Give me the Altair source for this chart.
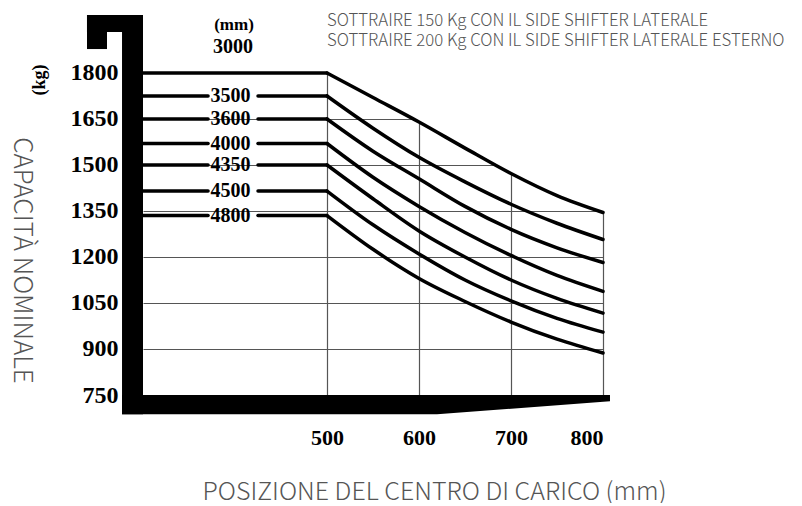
import altair as alt
import pandas as pd

# ---------------- data ----------------
x_pos = [500, 550, 600, 650, 700, 750, 800]
mast_heights = ["3000", "3500", "3600", "4000", "4350", "4500", "4800"]
cap_3000 = [1800, 1720, 1640, 1555, 1472, 1400, 1345]
cap_3500 = [1725, 1620, 1525, 1445, 1372, 1310, 1257]
cap_3600 = [1650, 1545, 1455, 1365, 1290, 1230, 1182]
cap_4000 = [1570, 1460, 1365, 1280, 1205, 1140, 1088]
cap_4350 = [1500, 1390, 1285, 1200, 1125, 1065, 1017]
cap_4500 = [1415, 1305, 1210, 1125, 1057, 1000, 955]
cap_4800 = [1335, 1225, 1130, 1055, 988, 932, 887]
y_ticks = [750, 900, 1050, 1200, 1350, 1500, 1650, 1800]
x_ticks = [500, 600, 700, 800]
notes = [
    "SOTTRAIRE 150 Kg CON IL SIDE SHIFTER LATERALE",
    "SOTTRAIRE 200 Kg CON IL SIDE SHIFTER LATERALE ESTERNO",
]
x_title = "POSIZIONE DEL CENTRO DI CARICO (mm)"
y_title = "CAPACITÀ NOMINALE"

caps_all = [cap_3000, cap_3500, cap_3600, cap_4000, cap_4350, cap_4500, cap_4800]

# ---------------- layout constants ----------------
X_MIN, X_MAX = 300, 800
Y_MIN, Y_MAX = 750, 1989
GAP_L, GAP_R = 370.7, 425.0   # gap in the flat part for the label
LABEL_X = 395.0
SERIF = "Liberation Serif"
SANS = "Noto Sans CJK SC"

xs = alt.Scale(domain=[X_MIN, X_MAX], nice=False, zero=False)
ys = alt.Scale(domain=[Y_MIN, Y_MAX], nice=False, zero=False)

# ---------------- tables ----------------
rows = []
for h, caps in zip(mast_heights, caps_all):
    c0 = caps[0]
    if h == mast_heights[0]:
        rows += [(h + "a", X_MIN, c0), (h + "a", x_pos[0], c0)]
    else:
        rows += [(h + "a", X_MIN, c0), (h + "a", GAP_L, c0),
                 (h + "b", GAP_R, c0), (h + "b", x_pos[0], c0)]
    for xv, yv in zip(x_pos, caps):
        rows.append((h + "c", xv, yv))
lines_df = pd.DataFrame(rows, columns=["key", "x", "y"])

mask_x = [X_MIN] + x_pos + [815]
mask_y = [cap_3000[0]] + cap_3000 + [cap_3000[-1]]
mask_df = pd.DataFrame({"x": mask_x, "y": mask_y, "y2": [Y_MAX] * len(mask_x)})

label_df = pd.DataFrame({
    "x": [LABEL_X] * (len(mast_heights) - 1),
    "y": [c[0] for c in caps_all[1:]],
    "t": mast_heights[1:],
})

# decorative thick frame (in data units)
frame_df = pd.DataFrame({
    "x": [277.2, 239.1, 239.1],
    "x2": [X_MIN, X_MIN, 260.9],
    "y": [687, 1933.5, 1878],
    "y2": [Y_MAX, Y_MAX, Y_MAX],
})
bottom_df = pd.DataFrame({
    "x": [277.2, 619.6, 807.6],
    "y": [Y_MIN, Y_MIN, Y_MIN],
    "y2": [687, 687, 729.5],
})

# ---------------- layers ----------------
x_axis = alt.Axis(
    values=x_ticks, title=x_title, grid=True, gridColor="#555555", gridWidth=1.2,
    domain=False, ticks=False, tickSize=0, format="d",
    labelFont=SERIF, labelFontWeight="bold", labelFontSize=22, labelColor="black",
    labelPadding=32,
    titleFont=SANS, titleFontSize=25, titleFontWeight=300, titleColor="#555555",
    titleX=291, titleY=96, titleAlign="center", titleBaseline="middle", titleAngle=0,
)
y_axis = alt.Axis(
    values=y_ticks, title=y_title, grid=True, gridColor="#555555", gridWidth=1.2,
    domain=False, ticks=False, tickSize=0, format="d",
    labelFont=SERIF, labelFontWeight="bold", labelFontSize=24, labelColor="black",
    labelPadding=25,
    titleFont=SANS, titleFontSize=26, titleFontWeight=300, titleColor="#555555",
    titleX=-122, titleY=245, titleAlign="center", titleBaseline="middle", titleAngle=90,
)

X = alt.X("x:Q", scale=xs, axis=x_axis)
Y = alt.Y("y:Q", scale=ys, axis=y_axis)

mask = alt.Chart(mask_df).mark_area(color="white", opacity=1).encode(
    x=X, y=Y, y2="y2:Q",
)

lines = alt.Chart(lines_df).mark_line(
    color="black", strokeWidth=3.5, interpolate="monotone", strokeCap="round"
).encode(x=X, y=Y, detail="key:N")

labels = alt.Chart(label_df).mark_text(
    font=SERIF, fontWeight="bold", fontSize=20, color="black",
    align="center", baseline="middle",
).encode(x=X, y=Y, text="t:N")

frame = alt.Chart(frame_df).mark_rect(color="black").encode(
    x=X, x2="x2:Q", y=Y, y2="y2:Q",
)

bottom = alt.Chart(bottom_df).mark_area(color="black", interpolate="linear").encode(
    x=X, y=Y, y2="y2:Q",
)

def annot(text, x, y, **kw):
    return alt.Chart(pd.DataFrame({"t": [text]})).mark_text(**kw).encode(
        text="t:N", x=alt.value(x), y=alt.value(y)
    )

ann = [
    annot("(mm)", 91, 10, font=SERIF, fontWeight="bold", fontSize=17,
          color="black", align="center", baseline="middle"),
    annot(mast_heights[0], 90, 32, font=SERIF, fontWeight="bold", fontSize=20,
          color="black", align="center", baseline="middle"),
    annot("(kg)", -103, 65, font=SERIF, fontWeight="bold", fontSize=18,
          color="black", align="center", baseline="middle", angle=270),
    annot(notes[0], 184, 6, font=SANS, fontSize=16.8, fontWeight=300,
          color="#555555", align="left", baseline="middle"),
    annot(notes[1], 184, 26, font=SANS, fontSize=16.8, fontWeight=300,
          color="#555555", align="left", baseline="middle"),
]

chart = alt.layer(mask, lines, labels, frame, bottom, *ann).properties(
    width=460, height=380,
    padding={"left": 135, "top": 7, "right": 191, "bottom": 108},
    autosize=alt.AutoSizeParams(type="none"),
    background="white",
).configure_view(stroke=None)

chart.save("out.html", embed_options={"renderer": "svg", "actions": False})
